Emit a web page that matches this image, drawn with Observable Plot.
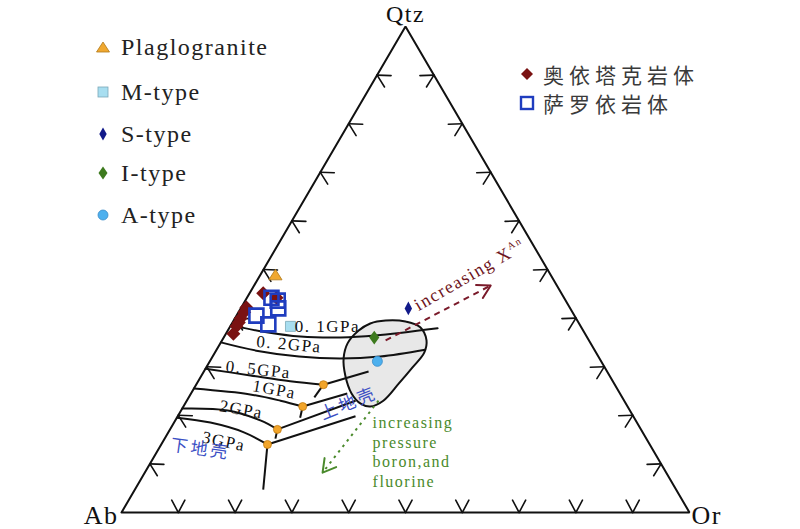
<!DOCTYPE html>
<html><head><meta charset="utf-8">
<script src="https://cdn.jsdelivr.net/npm/d3@7"></script>
<script src="https://cdn.jsdelivr.net/npm/@observablehq/plot@0.6"></script>
<style>
body{margin:0;background:#fff;}
#wrap{position:relative;width:800px;height:529px;overflow:hidden;}
.lt{position:absolute;white-space:nowrap;height:28px;line-height:28px;}
.mk{position:absolute;width:16px;height:16px;}
</style></head>
<body><div id="wrap"></div>
<script>
// ---------- data (ternary compositions: [Qtz, Ab, Or] in %) ----------
const vertexNames = ["Qtz", "Ab", "Or"];
const tickPercents = [10, 20, 30, 40, 50, 60, 70, 80, 90];

const plaglogranite = [[48.8, 48.5, 2.7]];
const mType = [[38.3, 51.1, 10.6]];
const sType = [[42.0, 28.5, 29.5]];
const iType = [[36.0, 37.5, 26.5]];
const aType = [[31.1, 39.4, 29.5]];
const oyitake = [[45.1, 52.5, 2.4], [44.2, 50.6, 5.2], [42.2, 56.9, 0.9], [41.2, 57.8, 1.0], [39.9, 59.1, 1.0], [39.1, 59.8, 1.1], [38.3, 60.6, 1.1], [36.8, 61.9, 1.3]];
const saluoyi = [[44.2, 51.5, 4.3], [43.6, 50.7, 5.7], [42.0, 51.4, 6.6], [40.5, 56.0, 3.5], [38.7, 54.8, 6.5]];

const pressureNames = ["0. 1GPa", "0. 2GPa", "0. 5GPa", "1GPa", "2GPa", "3GPa"];
const curve01 = [[38.5, 61.5, 0], [37.2, 56.4, 6.4], [36.2, 50.4, 13.4], [36.0, 43.4, 20.6], [36.4, 37.1, 26.5], [37.9, 25.4, 36.7]];
const curve02 = [[35.0, 65.0, 0], [33.3, 59.6, 7.1], [32.1, 52.7, 15.2], [31.7, 45.7, 22.6], [32.1, 38.4, 29.5], [33.5, 29.8, 36.7]];
const curve05 = [[29.6, 70.4, 0], [28.2, 63.2, 8.6], [27.0, 56.8, 16.2], [26.3, 51.3, 22.4]];
const curve1 = [[25.5, 74.5, 0], [24.3, 65.2, 10.5], [23.0, 60.5, 16.5], [21.8, 57.2, 21.0]];
const curve2 = [[21.4, 78.6, 0], [21.0, 70.8, 8.2], [18.9, 66.0, 15.1], [17.1, 64.0, 18.9]];
const curve3 = [[19.5, 80.5, 0], [18.5, 75.1, 6.4], [16.5, 70.2, 13.3], [14.0, 67.3, 18.7]];
const eutectics = [[26.3, 51.3, 22.4], [21.8, 57.2, 21.0], [17.1, 64.0, 18.9], [14.0, 67.3, 18.7]];
const qtzBoundaryEnds = [[29.0, 42.0, 29.0], [24.5, 48.0, 27.5], [23.0, 47.3, 29.7], [19.8, 48.9, 31.3]];
const fspBoundaryEnds = [[23.7, 54.2, 22.1], [19.5, 58.8, 21.7], [15.2, 65.3, 19.5], [4.7, 72.7, 22.6]];

const graniteField = [[39.5, 33.75, 26.75], [39.3, 30.35, 30.35], [38.1, 28.35, 33.55], [35.4, 28.6, 36.0], [32.9, 30.25, 36.85], [29.8, 33.9, 36.3], [26.5, 37.95, 35.55], [23.0, 42.4, 34.6], [21.8, 45.3, 32.9], [22.4, 46.7, 30.9], [24.5, 47.25, 28.25], [28.2, 46.5, 25.3], [31.7, 45.05, 23.25], [34.8, 42.8, 22.4], [37.4, 39.6, 23.0], [38.9, 36.75, 24.35]];

const xAnArrow = [[35.4, 35.8, 28.8], [46.7, 11.65, 41.65]];
const pressureArrow = [[23.0, 43.25, 33.75], [8.2, 60.5, 31.3]];

const legendLeft = ["Plaglogranite", "M-type", "S-type", "I-type", "A-type"];
const legendRight = ["奥依塔克岩体", "萨罗依岩体"];

// annotation anchors (compositions)
const pressureLabelAt = [[38.3, 44.6, 17.1], [34.6, 53.2, 12.2], [29.4, 61.2, 9.4], [25.3, 60.45, 14.25], [21.2, 68.3, 10.5], [14.6, 74.7, 10.7]];
const crustLabels = ["上地壳", "下地壳"];
const crustLabelAt = [[22.4, 48.8, 28.8], [13.0, 79.6, 7.4]];
const xAnLabel = "increasing X";
const xAnLabelAt = [41.4, 27.0, 31.6];
const pressureNote = "increasing\npressure\nboron,and\nfluorine";
const pressureNoteAt = [20.2, 45.7, 34.1];

// ---------- helpers ----------
function toXY(c) { const [q, a, o] = c; const s = q + a + o; return {x: (o + q / 2) / s * 100, y: q / s * 100}; }
const pts = arr => arr.map(toXY);
const serif = '"Liberation Serif","Times New Roman",serif';
const cjk = '"Noto Sans CJK SC","Noto Sans CJK JP",sans-serif';
const ML = 121, MR = 111, MT = 26, MB = 17, W = 800, H = 529;
const sx = (W - ML - MR) / 100, sy = (H - MT - MB) / 100;
function pxDist(a, b) { const p = toXY(a), q = toXY(b); return Math.hypot((q.x - p.x) * sx, (q.y - p.y) * sy); }

const lineShape = {draw(ctx, l) { ctx.moveTo(0, 0); ctx.lineTo(0, -l); }};
const sym = {
  tri: {draw(c, s) { const r = Math.sqrt(s / Math.PI); c.moveTo(0, -r); c.lineTo(r * 1.1, r * 0.75); c.lineTo(-r * 1.1, r * 0.75); c.closePath(); }},
  sq: {draw(c, s) { const r = Math.sqrt(s / Math.PI); c.rect(-r, -r, 2 * r, 2 * r); }},
  tallDiamond: {draw(c, s) { const r = Math.sqrt(s / Math.PI); c.moveTo(0, -1.3 * r); c.lineTo(0.7 * r, 0); c.lineTo(0, 1.3 * r); c.lineTo(-0.7 * r, 0); c.closePath(); }},
  wideDiamond: {draw(c, s) { const r = Math.sqrt(s / Math.PI); c.moveTo(0, -1.3 * r); c.lineTo(0.95 * r, 0); c.lineTo(0, 1.3 * r); c.lineTo(-0.95 * r, 0); c.closePath(); }},
  diamond: {draw(c, s) { const r = Math.sqrt(s / Math.PI); c.moveTo(0, -r); c.lineTo(r, 0); c.lineTo(0, r); c.lineTo(-r, 0); c.closePath(); }}
};

const vertices = [[100, 0, 0], [0, 100, 0], [0, 0, 100]];
const triangle = pts([vertices[1], vertices[2], vertices[0], vertices[1]]);
const edges = [
  {ticks: tickPercents.map(t => [0, 100 - t, t]), normal: 0},
  {ticks: tickPercents.map(t => [t, 100 - t, 0]), normal: 120},
  {ticks: tickPercents.map(t => [t, 0, 100 - t]), normal: 240}
];
const tickMarks = edges.flatMap(e => [-28, 28].map(d =>
  Plot.vector(pts(e.ticks), {x: "x", y: "y", length: 14, rotate: e.normal + d, anchor: "start", shape: lineShape, stroke: "#111", strokeWidth: 1.6})));

const curves = [curve01, curve02, curve05, curve1, curve2, curve3];
const branchLinks = (ends) => eutectics.map((e, i) => { const a = toXY(e), b = toXY(ends[i]); return {x1: a.x, y1: a.y, x2: b.x, y2: b.y}; });
const arrowXY = (arr) => { const a = toXY(arr[0]), b = toXY(arr[1]); return [{x1: a.x, y1: a.y, x2: b.x, y2: b.y}]; };

const labelRot = [0, 5, 6, 10, 10, 12];
const pressureTextMarks = pressureNames.map((n, i) => Plot.text([n], {
  x: () => toXY(pressureLabelAt[i]).x, y: () => toXY(pressureLabelAt[i]).y,
  text: d => d, rotate: labelRot[i], fontFamily: serif, fontSize: 17, fill: "#111", textAnchor: "middle", lineAnchor: "middle"}));
const crustRot = [-22, 8];
const crustTextMarks = crustLabels.map((n, i) => Plot.text([n], {
  x: () => toXY(crustLabelAt[i]).x, y: () => toXY(crustLabelAt[i]).y,
  text: d => d, rotate: crustRot[i], fontFamily: cjk, fontSize: 17, fill: "#3b4fc4", textAnchor: "middle", lineAnchor: "middle"}));

const chart = Plot.plot({
  width: W, height: H,
  marginLeft: ML, marginRight: MR, marginTop: MT, marginBottom: MB,
  x: {domain: [0, 100], axis: null},
  y: {domain: [0, 100], axis: null},
  style: {background: "#fff", overflow: "visible"},
  marks: [
    Plot.line(pts(graniteField), {x: "x", y: "y", curve: "catmull-rom-closed", fill: "#e8e8e8", stroke: "#111", strokeWidth: 2}),
    Plot.line(triangle, {x: "x", y: "y", stroke: "#111", strokeWidth: 2, strokeLinejoin: "miter"}),
    ...tickMarks,
    ...curves.map(c => Plot.line(pts(c), {x: "x", y: "y", curve: "catmull-rom", stroke: "#111", strokeWidth: 2})),
    Plot.link(branchLinks(qtzBoundaryEnds), {x1: "x1", y1: "y1", x2: "x2", y2: "y2", stroke: "#111", strokeWidth: 2}),
    Plot.link(branchLinks(fspBoundaryEnds), {x1: "x1", y1: "y1", x2: "x2", y2: "y2", stroke: "#111", strokeWidth: 2}),
    Plot.dot(pts(eutectics), {x: "x", y: "y", r: 4, fill: "#f2a52a", stroke: "#c07a10", strokeWidth: 0.8}),
    // arrows
    Plot.link(arrowXY(xAnArrow), {x1: "x1", y1: "y1", x2: "x2", y2: "y2", stroke: "#7a1a2a", strokeWidth: 2, strokeDasharray: "6,5"}),
    Plot.arrow(arrowXY(xAnArrow), {x1: "x1", y1: "y1", x2: "x2", y2: "y2", stroke: "#7a1a2a", strokeWidth: 2, headLength: 11, headAngle: 60, insetStart: pxDist(...xAnArrow) - 1}),
    Plot.link(arrowXY(pressureArrow), {x1: "x1", y1: "y1", x2: "x2", y2: "y2", stroke: "#4a8a2c", strokeWidth: 2, strokeDasharray: "2.5,4.5"}),
    Plot.arrow(arrowXY(pressureArrow), {x1: "x1", y1: "y1", x2: "x2", y2: "y2", stroke: "#4a8a2c", strokeWidth: 2, headLength: 11, headAngle: 60, insetStart: pxDist(...pressureArrow) - 1}),
    // samples
    Plot.dot(pts(oyitake), {x: "x", y: "y", r: 7, symbol: sym.diamond, fill: "#7a1212", stroke: "none"}),
    Plot.dot(pts(saluoyi), {x: "x", y: "y", r: 7, symbol: sym.sq, fill: "none", stroke: "#1f3dbf", strokeWidth: 2.6}),
    Plot.dot(pts(plaglogranite), {x: "x", y: "y", r: 6, symbol: sym.tri, fill: "#f0a830", stroke: "#b07818", strokeWidth: 0.8}),
    Plot.dot(pts(mType), {x: "x", y: "y", r: 5, symbol: sym.sq, fill: "#a8def0", stroke: "#7aa8b8", strokeWidth: 0.8}),
    Plot.dot(pts(sType), {x: "x", y: "y", r: 5.3, symbol: sym.tallDiamond, fill: "#121a8a", stroke: "none"}),
    Plot.dot(pts(iType), {x: "x", y: "y", r: 5.3, symbol: sym.wideDiamond, fill: "#3d7a1e", stroke: "none"}),
    Plot.dot(pts(aType), {x: "x", y: "y", r: 5, fill: "#4db0ee", stroke: "#3a8cc8", strokeWidth: 0.8}),
    // texts
    ...pressureTextMarks,
    ...crustTextMarks,
    Plot.text([xAnLabel], {x: () => toXY(xAnLabelAt).x, y: () => toXY(xAnLabelAt).y, text: d => d, rotate: -30, fontFamily: serif, fontSize: 18, fill: "#6e1420", textAnchor: "start", lineAnchor: "bottom"}),
    Plot.text([pressureNote], {x: () => toXY(pressureNoteAt).x, y: () => toXY(pressureNoteAt).y, text: d => d, fontFamily: serif, fontSize: 16, lineHeight: 1.22, fill: "#4a8a2c", textAnchor: "start", lineAnchor: "top"}),
    Plot.text([vertexNames[0]], {x: () => toXY(vertices[0]).x, y: () => toXY(vertices[0]).y, text: d => d, fontFamily: serif, fontSize: 24, fill: "#111", textAnchor: "middle", lineAnchor: "bottom", dy: -5}),
    Plot.text([vertexNames[1]], {x: () => toXY(vertices[1]).x, y: () => toXY(vertices[1]).y, text: d => d, fontFamily: serif, fontSize: 26, fill: "#111", textAnchor: "end", lineAnchor: "bottom", dx: -3, dy: 11}),
    Plot.text([vertexNames[2]], {x: () => toXY(vertices[2]).x, y: () => toXY(vertices[2]).y, text: d => d, fontFamily: serif, fontSize: 26, fill: "#111", textAnchor: "start", lineAnchor: "bottom", dx: 2, dy: 11})
  ]
});
chart.style.letterSpacing = "1.5px";
chart.querySelectorAll("text").forEach(t => {
  if (t.textContent === xAnLabel) {
    const ts = document.createElementNS("http://www.w3.org/2000/svg", "tspan");
    ts.setAttribute("dy", "-0.75em"); ts.setAttribute("font-size", "10"); ts.textContent = "An";
    t.appendChild(ts);
  }
  if (crustLabels.includes(t.textContent)) t.style.letterSpacing = "3px";
});
const wrap = document.getElementById("wrap");
wrap.appendChild(chart);

// ---------- legends (HTML overlay) ----------
const leftMarkers = [
  '<path d="M8,3 L14.5,13 L1.5,13Z" fill="#f0a830" stroke="#b07818" stroke-width="0.8"/>',
  '<rect x="3" y="3" width="10" height="10" fill="#a8def0" stroke="#7aa8b8" stroke-width="0.8"/>',
  '<path d="M8,1.5 L11.7,8 L8,14.5 L4.3,8Z" fill="#121a8a"/>',
  '<path d="M8,1.5 L12.5,8 L8,14.5 L3.5,8Z" fill="#3d7a1e"/>',
  '<circle cx="8" cy="8" r="5" fill="#4db0ee" stroke="#3a8cc8" stroke-width="0.8"/>'
];
const leftRowY = [47, 92, 134, 173, 215];
legendLeft.forEach((name, i) => {
  const m = document.createElement("div"); m.className = "mk";
  m.style.left = (103 - 8) + "px"; m.style.top = (leftRowY[i] - 8) + "px";
  m.innerHTML = '<svg width="16" height="16">' + leftMarkers[i] + '</svg>';
  wrap.appendChild(m);
  const t = document.createElement("div"); t.className = "lt";
  t.style.left = "121px"; t.style.top = (leftRowY[i] - 14) + "px";
  t.style.fontFamily = serif; t.style.fontSize = "24px"; t.style.letterSpacing = "1.5px"; t.style.color = "#222";
  t.textContent = name; wrap.appendChild(t);
});
const rightMarkers = [
  '<path d="M8,2 L14,8 L8,14 L2,8Z" fill="#7a1212"/>',
  '<rect x="2" y="2" width="12" height="12" fill="none" stroke="#1f3dbf" stroke-width="2.4"/>'
];
const rightRowY = [74, 103];
legendRight.forEach((name, i) => {
  const m = document.createElement("div"); m.className = "mk";
  m.style.left = (527 - 8) + "px"; m.style.top = (rightRowY[i] - 8) + "px";
  m.innerHTML = '<svg width="16" height="16">' + rightMarkers[i] + '</svg>';
  wrap.appendChild(m);
  const t = document.createElement("div"); t.className = "lt";
  t.style.left = "543px"; t.style.top = (rightRowY[i] - 14) + "px";
  t.style.fontFamily = cjk; t.style.fontSize = "21px"; t.style.letterSpacing = "5px"; t.style.color = "#3a3a3a";
  t.textContent = name; wrap.appendChild(t);
});
</script>
</body></html>
